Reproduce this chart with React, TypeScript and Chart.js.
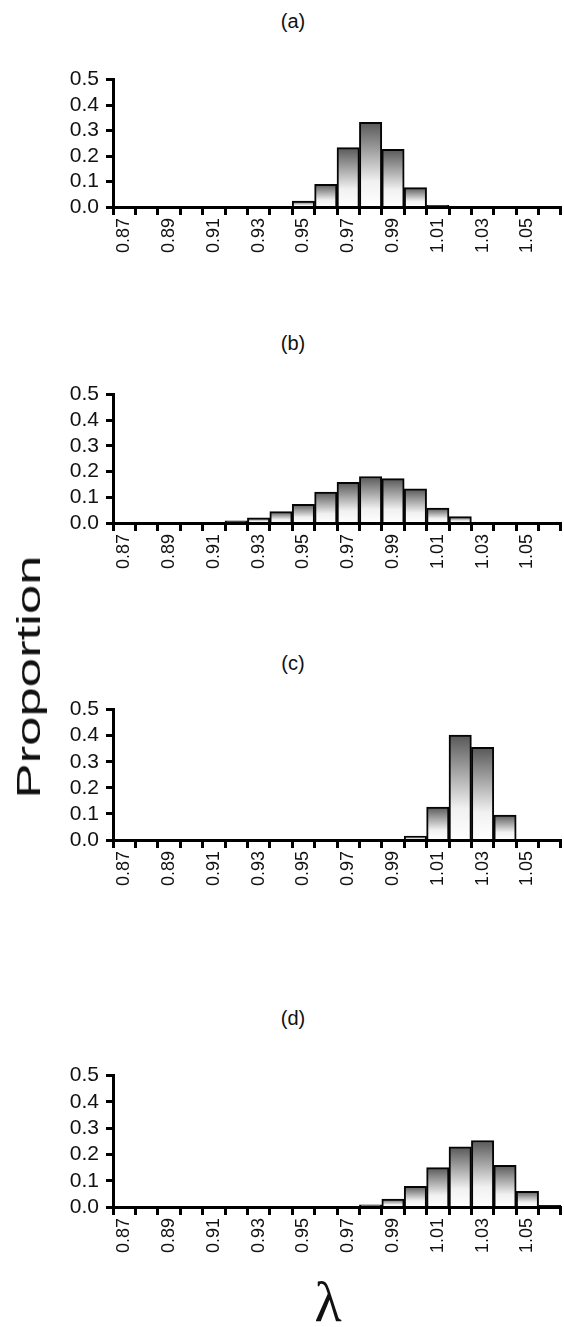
import React, { useEffect, useRef } from "react";
import { Chart, registerables } from "chart.js";

Chart.register(...registerables);

// λ bins (bin width 0.01)
const lambdaBins = [
  "0.87", "0.88", "0.89", "0.90", "0.91", "0.92", "0.93", "0.94", "0.95", "0.96",
  "0.97", "0.98", "0.99", "1.00", "1.01", "1.02", "1.03", "1.04", "1.05", "1.06",
];
// labels printed under the axis
const shownTickLabels = ["0.87", "0.89", "0.91", "0.93", "0.95", "0.97", "0.99", "1.01", "1.03", "1.05"];

// proportions per panel
const panelAValues = [0, 0, 0, 0, 0, 0, 0, 0, 0.023, 0.089, 0.233, 0.332, 0.226, 0.076, 0.007, 0, 0, 0, 0, 0];
const panelBValues = [0, 0, 0, 0, 0, 0.008, 0.02, 0.044, 0.073, 0.12, 0.158, 0.181, 0.173, 0.133, 0.058, 0.025, 0.002, 0, 0, 0];
const panelCValues = [0, 0, 0, 0, 0, 0, 0, 0, 0, 0, 0, 0, 0, 0.015, 0.126, 0.402, 0.355, 0.096, 0, 0];
const panelDValues = [0, 0, 0, 0, 0, 0, 0, 0, 0, 0, 0, 0.008, 0.03, 0.079, 0.15, 0.229, 0.253, 0.159, 0.06, 0.006];

const panelTitles = ["(a)", "(b)", "(c)", "(d)"];
const yAxisTitle = "Proportion";
const xAxisTitle = "λ";

const SANS = "'Liberation Sans', Arial, Helvetica, sans-serif";
const PAD_TOP = 15;
const X_AXIS_H = 60;
const Y_AXIS_W = 113;

type PanelProps = { values: number[]; plotTop: number; plotBottom: number };

function Panel({ values, plotTop, plotBottom }: PanelProps) {
  const ref = useRef<HTMLCanvasElement | null>(null);
  const height = PAD_TOP + (plotBottom - plotTop) + X_AXIS_H;

  useEffect(() => {
    if (!ref.current) return;
    const chart = new Chart(ref.current, {
      type: "bar",
      data: {
        labels: lambdaBins,
        datasets: [
          {
            data: values,
            backgroundColor: (ctx: any) => {
              const ch = ctx.chart;
              const y = ch.scales?.y;
              if (!ch.chartArea || !y || ctx.type !== "data") return "#888";
              const v = ctx.raw as number;
              const top = y.getPixelForValue(v);
              const base = y.getPixelForValue(0);
              if (base - top < 1) return "#555";
              const g = ch.ctx.createLinearGradient(0, top, 0, base);
              g.addColorStop(0, "#585858");
              g.addColorStop(0.7, "#f1f1f1");
              g.addColorStop(1, "#ffffff");
              return g;
            },
            borderColor: "#050505",
            borderWidth: 2,
            barPercentage: 1,
            categoryPercentage: 1,
          },
        ],
      },
      options: {
        responsive: false,
        animation: false,
        devicePixelRatio: 1,
        events: [],
        layout: { padding: { top: PAD_TOP, right: 3, left: 0, bottom: 0 } },
        plugins: { legend: { display: false }, tooltip: { enabled: false }, title: { display: false } },
        scales: {
          x: {
            type: "category",
            offset: true,
            grid: {
              offset: true,
              drawOnChartArea: false,
              drawTicks: true,
              tickLength: 8,
              tickWidth: 3,
              color: "#000",
              tickColor: "#000",
            },
            border: { display: true, width: 3, color: "#000", z: 1 },
            ticks: {
              autoSkip: false,
              maxRotation: 90,
              minRotation: 90,
              padding: 3,
              color: "#111",
              font: { family: SANS, size: 18 },
              callback: (_v: any, i: number) =>
                shownTickLabels.includes(lambdaBins[i]) ? lambdaBins[i] : "",
            },
            afterFit: (s: any) => {
              s.height = X_AXIS_H;
              s.paddingLeft = 0;
              s.paddingRight = 0;
            },
          },
          y: {
            min: 0,
            max: 0.5,
            grid: {
              drawOnChartArea: false,
              drawTicks: true,
              tickLength: 7,
              tickWidth: 3,
              color: "#000",
              tickColor: "#000",
            },
            border: { display: true, width: 3, color: "#000", z: 1 },
            ticks: {
              autoSkip: false,
              stepSize: 0.1,
              padding: 7,
              color: "#111",
              font: { family: SANS, size: 21 },
              callback: (v: any) => Number(v).toFixed(1),
            },
            afterFit: (s: any) => {
              s.width = Y_AXIS_W;
            },
          },
        },
      },
    } as any);
    return () => chart.destroy();
  }, [values, plotTop, plotBottom]);

  return (
    <canvas
      ref={ref}
      width={564}
      height={height}
      style={{ position: "absolute", left: 0, top: plotTop - PAD_TOP, width: 564, height }}
    />
  );
}

const titleStyle = (x: number, y: number): React.CSSProperties => ({
  position: "absolute",
  left: x,
  top: y,
  transform: "translate(-50%, -50%)",
  fontFamily: SANS,
  fontSize: 20,
  color: "#111",
  whiteSpace: "nowrap",
  lineHeight: 1,
});

export default function App() {
  return (
    <div
      style={{
        position: "absolute",
        left: 0,
        top: 0,
        width: 564,
        height: 1327,
        background: "#fff",
        overflow: "hidden",
      }}
    >
      <div style={titleStyle(293, 21)}>{panelTitles[0]}</div>
      <Panel values={panelAValues} plotTop={75} plotBottom={207} />
      <div style={titleStyle(293, 343)}>{panelTitles[1]}</div>
      <Panel values={panelBValues} plotTop={390} plotBottom={523} />
      <div style={titleStyle(293, 663)}>{panelTitles[2]}</div>
      <Panel values={panelCValues} plotTop={705} plotBottom={840} />
      <div style={titleStyle(293, 1018)}>{panelTitles[3]}</div>
      <Panel values={panelDValues} plotTop={1071} plotBottom={1207} />

      <div
        style={{
          position: "absolute",
          left: 28,
          top: 677,
          transform: "translate(-50%, -50%) rotate(-90deg) scaleX(1.55)",
          fontFamily: SANS,
          fontSize: 34,
          color: "#111",
          whiteSpace: "nowrap",
          lineHeight: 1,
        }}
      >
        {yAxisTitle}
      </div>
      <div
        style={{
          position: "absolute",
          left: 328,
          top: 1274,
          transform: "translateX(-50%)",
          fontFamily: "'Liberation Serif', 'DejaVu Serif', 'Times New Roman', serif",
          fontSize: 56,
          color: "#111",
          whiteSpace: "nowrap",
          lineHeight: 1,
        }}
      >
        {xAxisTitle}
      </div>
    </div>
  );
}
